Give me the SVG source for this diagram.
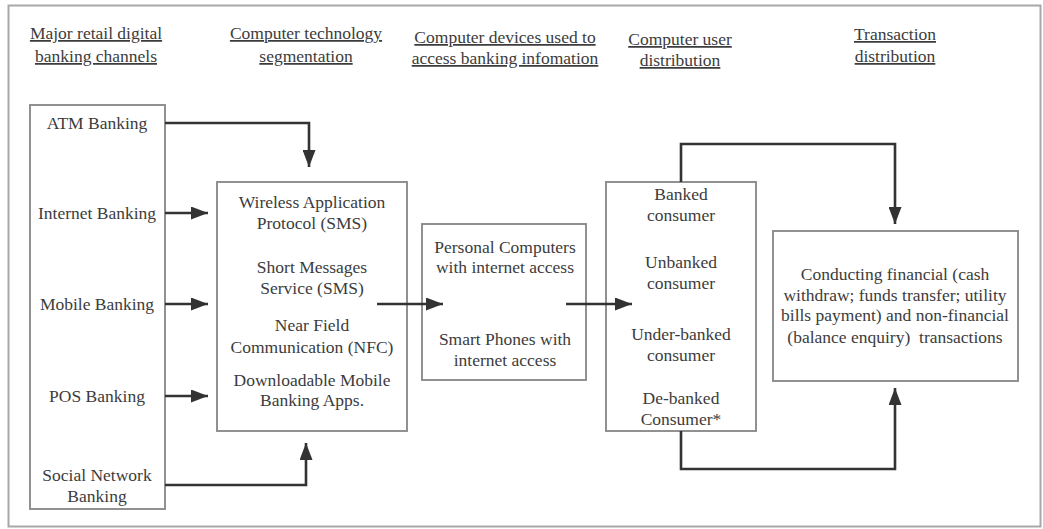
<svg xmlns="http://www.w3.org/2000/svg" width="1043" height="529" viewBox="0 0 1043 529">
<defs>
<marker id="ah" markerUnits="userSpaceOnUse" markerWidth="17" markerHeight="13" refX="17" refY="6.5" orient="auto">
<path d="M0,0 L17,6.5 L0,13 z" fill="#333"/>
</marker>
<style>
text{font-family:"Liberation Serif","Times New Roman",serif;font-size:17.5px;fill:#3c3c3c;text-anchor:middle}
.hd{text-decoration:underline}
.box{fill:none;stroke:#858585;stroke-width:1.8}
.conn path{fill:none;stroke:#333;stroke-width:2.6;marker-end:url(#ah)}
</style>
</defs>
<rect x="0" y="0" width="1043" height="529" fill="#fff"/>
<rect x="8.5" y="5.5" width="1032" height="521" fill="none" stroke="#a8a8a8" stroke-width="2"/>

<g id="headers">
<text class="hd" x="96" y="39">Major retail digital</text>
<text class="hd" x="96" y="62">banking channels</text>
<text class="hd" x="306" y="39">Computer technology</text>
<text class="hd" x="306" y="62">segmentation</text>
<text class="hd" x="505" y="43">Computer devices used to</text>
<text class="hd" x="505" y="64">access banking infomation</text>
<text class="hd" x="680" y="45">Computer user</text>
<text class="hd" x="680" y="66">distribution</text>
<text class="hd" x="895" y="40">Transaction</text>
<text class="hd" x="895" y="62">distribution</text>
</g>

<g id="channels">
<rect class="box" x="30" y="105" width="135" height="404"/>
<text x="97" y="129">ATM Banking</text>
<text x="97" y="219">Internet Banking</text>
<text x="97" y="310">Mobile Banking</text>
<text x="97" y="402">POS Banking</text>
<text x="97" y="481">Social Network</text>
<text x="97" y="502">Banking</text>
</g>

<g id="segmentation">
<rect class="box" x="217" y="182" width="190" height="249"/>
<text x="312" y="208">Wireless Application</text>
<text x="312" y="229">Protocol (SMS)</text>
<text x="312" y="273">Short Messages</text>
<text x="312" y="294">Service (SMS)</text>
<text x="312" y="331">Near Field</text>
<text x="312" y="353">Communication (NFC)</text>
<text x="312" y="386">Downloadable Mobile</text>
<text x="312" y="406">Banking Apps.</text>
</g>

<g id="devices">
<rect class="box" x="422" y="224" width="164" height="156"/>
<text x="505" y="253">Personal Computers</text>
<text x="505" y="273">with internet access</text>
<text x="505" y="345">Smart Phones with</text>
<text x="505" y="366">internet access</text>
</g>

<g id="users">
<rect class="box" x="606" y="182" width="150" height="249"/>
<text x="681" y="200">Banked</text>
<text x="681" y="221">consumer</text>
<text x="681" y="268">Unbanked</text>
<text x="681" y="289">consumer</text>
<text x="681" y="340">Under-banked</text>
<text x="681" y="361">consumer</text>
<text x="681" y="404">De-banked</text>
<text x="681" y="425">Consumer*</text>
</g>

<g id="transactions">
<rect class="box" x="773" y="231" width="245" height="150"/>
<text x="895" y="280">Conducting financial (cash</text>
<text x="895" y="301">withdraw; funds transfer; utility</text>
<text x="895" y="321">bills payment) and non-financial</text>
<text x="895" y="343" xml:space="preserve">(balance enquiry)  transactions</text>
</g>

<g id="connectors" class="conn">
<path d="M165,123 H309 V167"/>
<path d="M165,213 H208"/>
<path d="M165,304 H208"/>
<path d="M165,396 H208"/>
<path d="M165,485 H306 V443"/>
<path d="M377,304 H443"/>
<path d="M566,304 H632"/>
<path d="M681,182 V144 H895 V224"/>
<path d="M681,431 V469 H895 V388"/>
</g>
</svg>
